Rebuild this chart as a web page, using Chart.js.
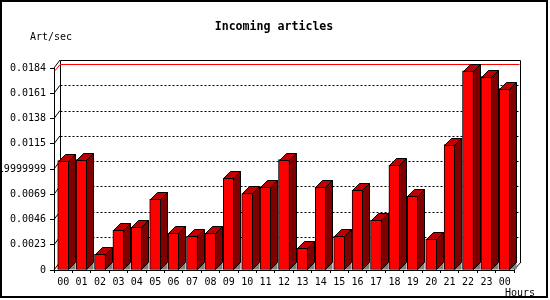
<!DOCTYPE html>
<html>
<head>
<meta charset="utf-8">
<script src="https://cdn.jsdelivr.net/npm/chart.js@4/dist/chart.umd.min.js"></script>
<style>
  html, body { margin: 0; padding: 0; background: #fff; }
  #wrap { width: 550px; height: 300px; position: relative; }
  canvas { display: block; background: #fff; }
</style>
</head>
<body>
<div id="wrap"><canvas id="c" width="550" height="300"></canvas></div>
<script>
const hours = ["00","01","02","03","04","05","06","07","08","09","10","11","12","13","14","15","16","17","18","19","20","21","22","23","00"];
const artPerSec = [0.00997,0.01006,0.00143,0.00361,0.00388,0.00643,0.00334,0.00306,0.00334,0.00834,0.00697,0.00752,0.01006,0.00197,0.00752,0.00306,0.00725,0.00452,0.00955,0.0067,0.00279,0.01143,0.01815,0.01761,0.01652];
const yTickValues = [0,0.0023,0.0046,0.0069,0.0092,0.0115,0.0138,0.0161,0.0184];
const yTickLabels = ["0","0.0023","0.0046","0.0069","0.00919999999","0.0115","0.0138","0.0161","0.0184"];
const titleText = "Incoming articles";
const yAxisTitle = "Art/sec";
const xAxisTitle = "Hours";

const DX = 7, DY = 7;     // bar depth
const WDX = 7, WDY = 8;   // wall offset

const MONO = "'DejaVu Sans Mono', 'Liberation Mono', monospace";
Chart.defaults.font.family = MONO;
Chart.defaults.font.size = 10;
Chart.defaults.color = '#000';

const P = v => Math.round(v) + 0.5;

const deco = {
  id: 'deco',
  beforeDraw(chart) {
    const ctx = chart.ctx;
    ctx.save();
    ctx.fillStyle = '#fff';
    ctx.fillRect(0, 0, chart.width, chart.height);
    ctx.restore();
  },
  beforeDatasetsDraw(chart) {
    const ctx = chart.ctx, ca = chart.chartArea, ys = chart.scales.y;
    ctx.save();
    ctx.lineWidth = 1;
    const wl = P(ca.left + WDX - 1), wr = P(ca.right + WDX - 1), wt = P(ca.top - WDY), wb = P(ca.bottom - WDY);
    ctx.strokeStyle = '#000';
    yTickValues.forEach((v, i) => {
      const y = ys.getPixelForValue(v);
      if (i > 0 && i < yTickValues.length - 1) {
        ctx.setLineDash([2, 2]);
        ctx.beginPath();
        ctx.moveTo(wl, P(y - WDY));
        ctx.lineTo(wr, P(y - WDY));
        ctx.stroke();
      }
      ctx.setLineDash([]);
      ctx.beginPath();
      ctx.moveTo(ca.left, y);
      ctx.lineTo(ca.left + WDX - 1, y - WDY);
      ctx.stroke();
    });
    ctx.setLineDash([]);
    // wall outline
    ctx.beginPath();
    ctx.moveTo(wl, wb);
    ctx.lineTo(wl, wt);
    ctx.lineTo(wr, wt);
    ctx.lineTo(wr, wb);
    ctx.stroke();
    // floor right slant
    ctx.beginPath();
    ctx.moveTo(ca.right, ca.bottom);
    ctx.lineTo(ca.right + WDX, ca.bottom - WDY);
    ctx.stroke();
    // max line (red)
    const maxV = Math.max(...artPerSec);
    const my = ys.getPixelForValue(maxV);
    ctx.strokeStyle = '#ff0000';
    ctx.beginPath();
    ctx.moveTo(ca.left + 1, my);
    ctx.lineTo(ca.left + WDX - 1, P(my - WDY + 1));
    ctx.lineTo(wr - 1, P(my - WDY + 1));
    ctx.stroke();
    ctx.restore();
  },
  afterDatasetsDraw(chart) {
    const ctx = chart.ctx, meta = chart.getDatasetMeta(0);
    ctx.save();
    ctx.lineWidth = 1;
    ctx.strokeStyle = '#000';
    meta.data.forEach(bar => {
      const p = bar.getProps(['x', 'y', 'base', 'width'], true);
      const L = Math.round(p.x - p.width / 2), R = Math.round(p.x + p.width / 2) - 0.5;
      const T = Math.round(p.y) + 0.5, B = Math.round(p.base) - 0.5;
      ctx.fillStyle = '#808080';
      ctx.beginPath();
      ctx.moveTo(R, B); ctx.lineTo(R + DX, B - DY); ctx.lineTo(R + DX, B); ctx.closePath();
      ctx.fill();
      ctx.fillStyle = '#800000';
      ctx.beginPath();
      ctx.moveTo(R, T); ctx.lineTo(R + DX, T - DY); ctx.lineTo(R + DX, B - DY); ctx.lineTo(R, B); ctx.closePath();
      ctx.fill(); ctx.stroke();
      ctx.fillStyle = '#c00000';
      ctx.beginPath();
      ctx.moveTo(L + 0.5, T); ctx.lineTo(L + 0.5 + DX, T - DY); ctx.lineTo(R + DX, T - DY); ctx.lineTo(R, T); ctx.closePath();
      ctx.fill(); ctx.stroke();
    });
    ctx.restore();
  },
  afterDraw(chart) {
    const ctx = chart.ctx;
    ctx.save();
    ctx.fillStyle = '#000';
    ctx.textBaseline = 'middle';
    ctx.font = "bold 11.6px " + MONO;
    ctx.textAlign = 'center';
    ctx.fillText(titleText, 274, 27);
    ctx.font = "10px " + MONO;
    ctx.textAlign = 'left';
    ctx.fillText(yAxisTitle, 30, 37);
    ctx.fillText(xAxisTitle, 505, 293);
    ctx.fillRect(0, 0, 548, 2);
    ctx.fillRect(0, 0, 2, 298);
    ctx.fillRect(546, 0, 2, 298);
    ctx.fillRect(0, 296, 548, 2);
    ctx.restore();
  }
};

new Chart(document.getElementById('c'), {
  type: 'bar',
  data: {
    labels: hours,
    datasets: [{
      data: artPerSec,
      backgroundColor: '#ff0000',
      borderColor: '#000',
      borderWidth: 1,
      borderSkipped: false,
      barThickness: 11
    }]
  },
  options: {
    responsive: false,
    animation: false,
    devicePixelRatio: 1,
    layout: { padding: { top: 68, right: 36, left: 0, bottom: 0 } },
    plugins: { legend: { display: false }, title: { display: false }, tooltip: { enabled: false } },
    scales: {
      x: {
        afterFit: s => { s.height = 30; },
        grid: { display: true, drawOnChartArea: false, drawTicks: true, tickLength: 3, color: '#000', offset: true },
        border: { display: true, color: '#000' },
        ticks: { padding: 3, maxRotation: 0, autoSkip: false, color: '#000', font: { size: 10 } }
      },
      y: {
        min: 0, max: 0.0184,
        afterFit: s => { s.width = 54; },
        afterBuildTicks: s => { s.ticks = yTickValues.map(v => ({ value: v })); },
        grid: { display: true, drawOnChartArea: false, drawTicks: true, tickLength: 4, color: '#000' },
        border: { display: true, color: '#000' },
        ticks: { padding: 4, autoSkip: false, color: '#000', font: { size: 10 },
                 callback: (v, i) => yTickLabels[i] }
      }
    }
  },
  plugins: [deco]
});
</script>
</body>
</html>
